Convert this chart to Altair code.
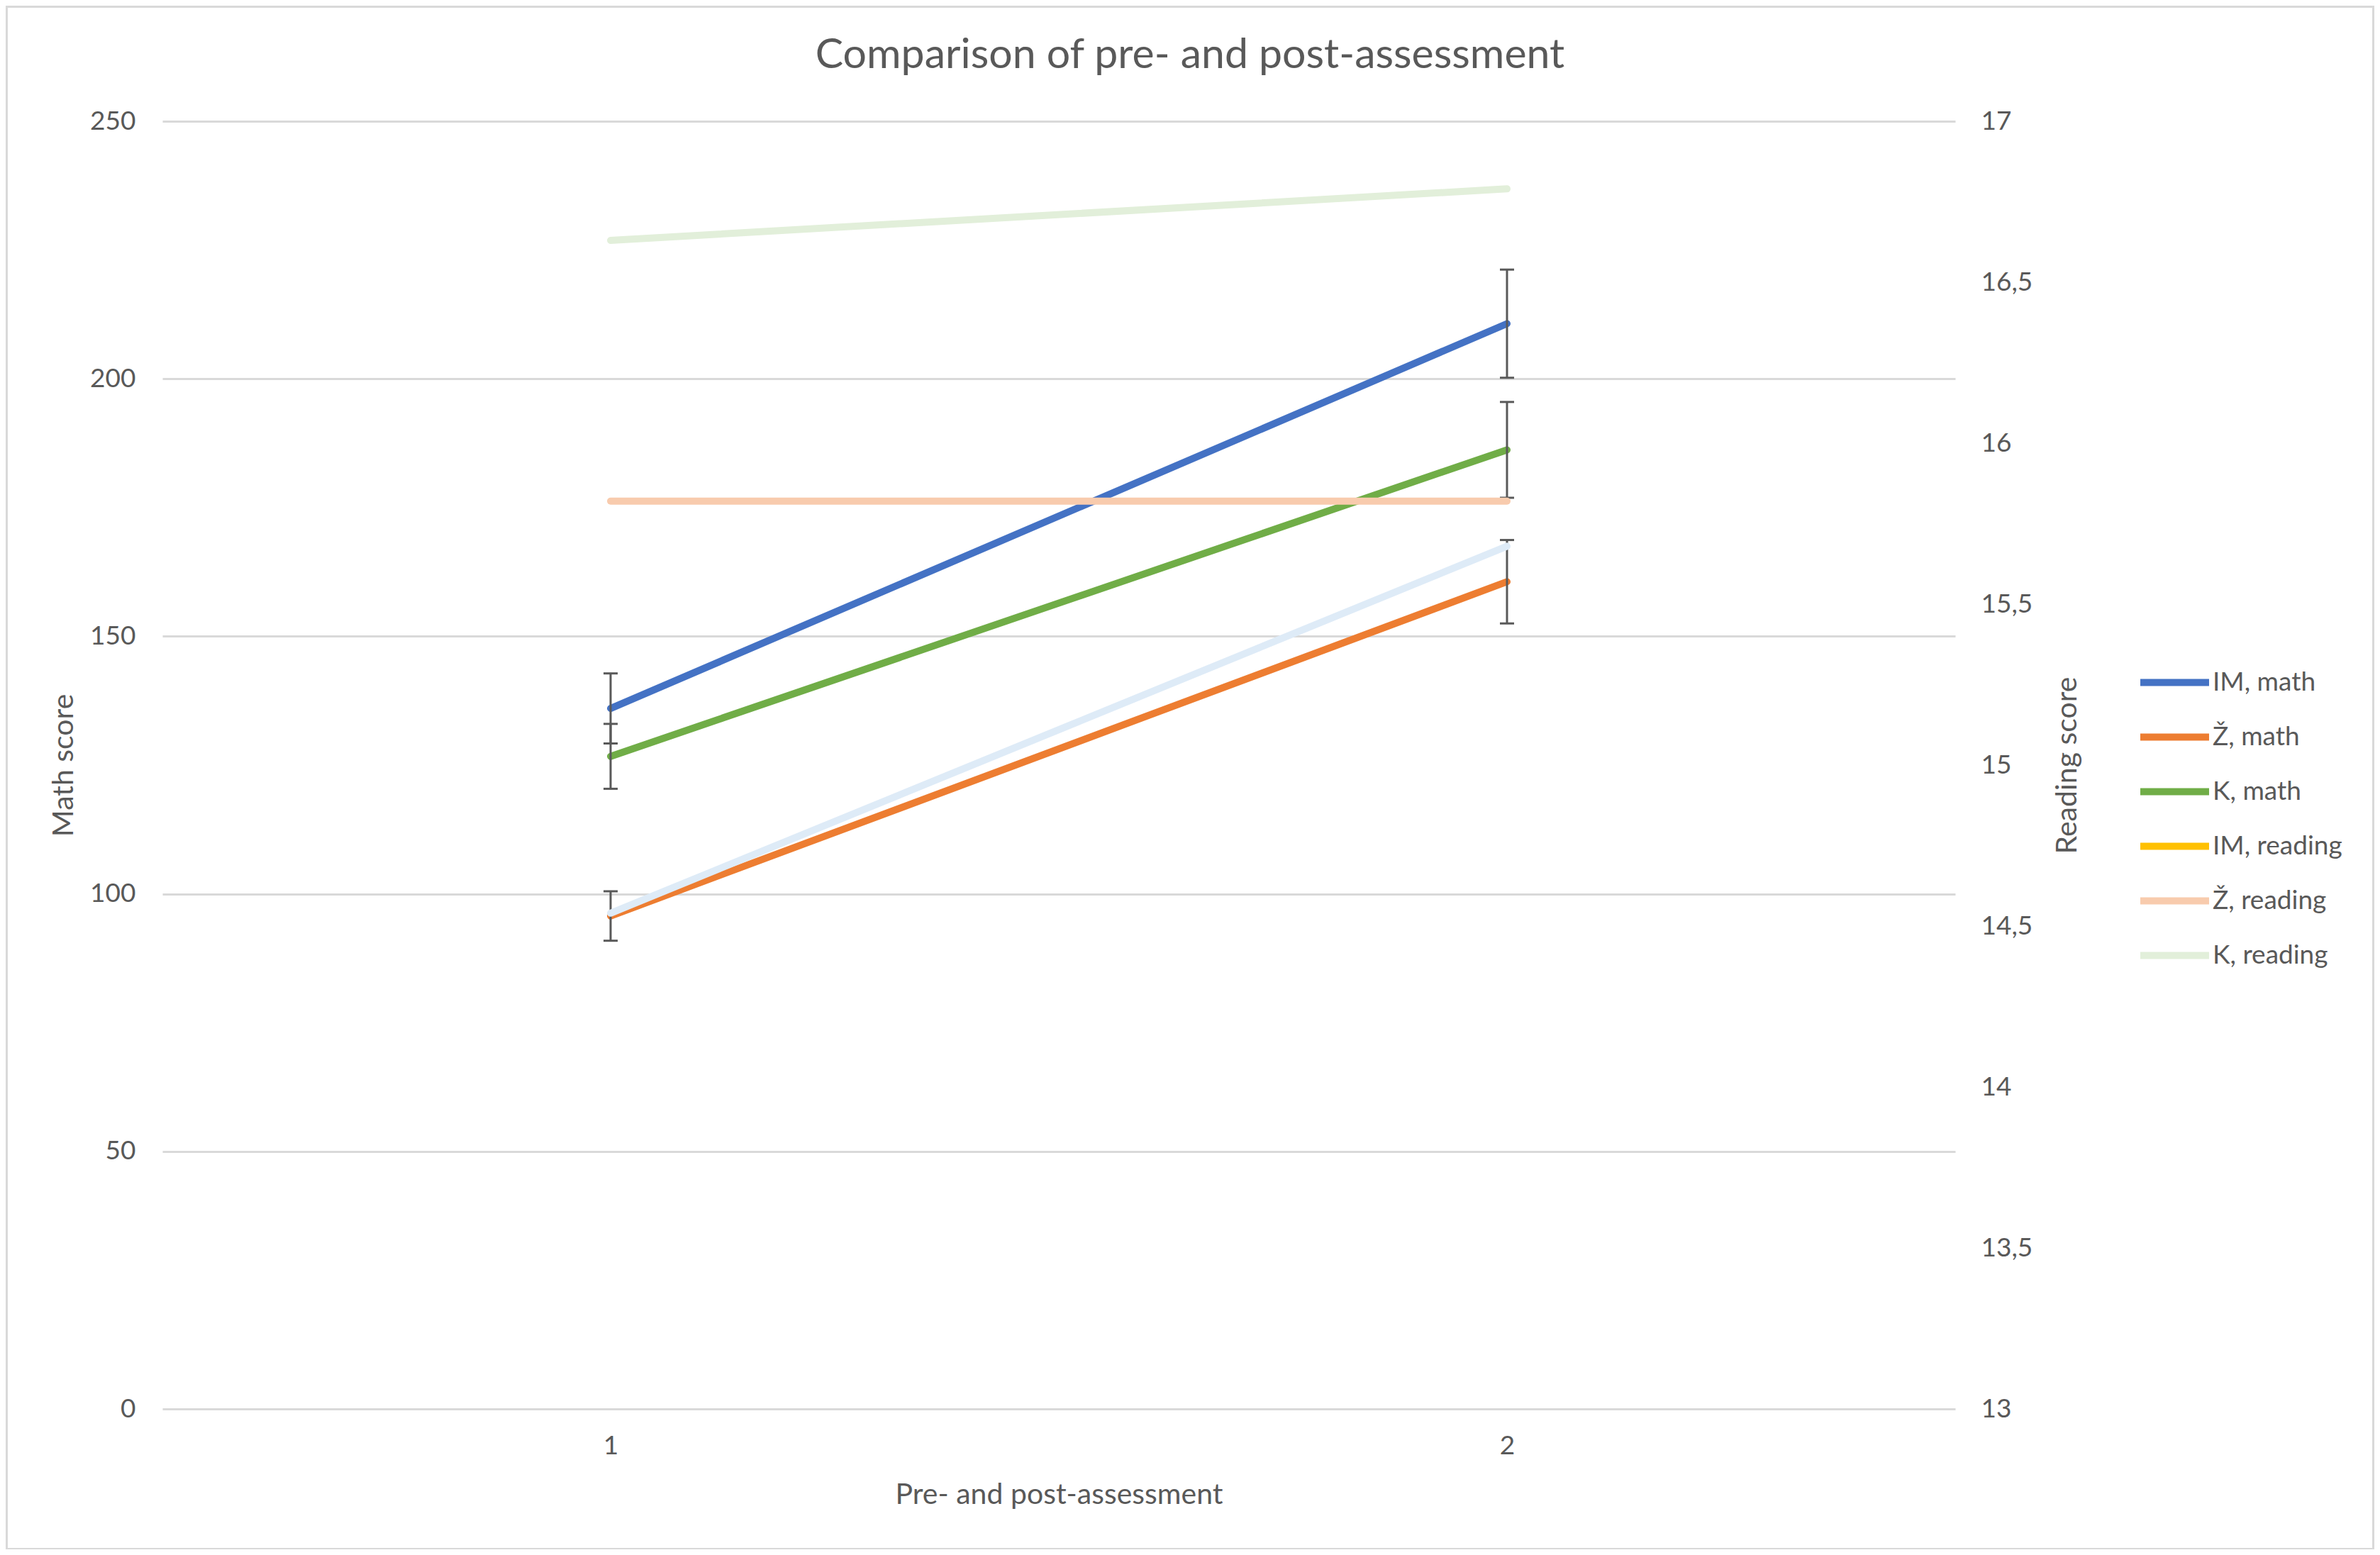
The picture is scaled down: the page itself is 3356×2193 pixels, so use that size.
import altair as alt
import pandas as pd

# ---------------- data ----------------
timepoints = ["1", "2"]

math_series = ["IM, math", "Ž, math", "K, math"]
im_math = [136.0, 210.7]
z_math = [95.7, 160.6]
k_math = [126.7, 186.2]
im_math_err = [6.8, 10.5]
z_math_err = [4.8, 8.1]
k_math_err = [6.3, 9.3]

reading_series = ["Ž, reading", "K, reading"]
z_reading = [15.82, 15.82]
k_reading = [16.63, 16.79]
extra_reading = [14.54, 15.68]  # pale blue line without legend entry

legend_names = ["IM, math", "Ž, math", "K, math", "IM, reading", "Ž, reading", "K, reading"]
legend_colors = ["#4472C4", "#ED7D31", "#70AD47", "#FFC000", "#F8CBAD", "#E2EFDA"]
extra_color = "#DEEBF7"

math_ticks = [0, 50, 100, 150, 200, 250]
reading_ticks = [13, 13.5, 14, 14.5, 15, 15.5, 16, 16.5, 17]

# ---------------- tables ----------------
math_rows = []
for name, vals, errs in zip(math_series, [im_math, z_math, k_math],
                            [im_math_err, z_math_err, k_math_err]):
    for t, v, e in zip(timepoints, vals, errs):
        math_rows.append({"series": name, "t": t, "value": v, "lo": v - e, "hi": v + e})
math_df = pd.DataFrame(math_rows)

reading_rows = []
for name, vals in zip(reading_series, [z_reading, k_reading]):
    for t, v in zip(timepoints, vals):
        reading_rows.append({"series": name, "t": t, "value": v})
reading_df = pd.DataFrame(reading_rows)

extra_df = pd.DataFrame({"t": timepoints, "value": extra_reading})

FONT = "Lato"
TXT = "#595959"
GRID = "#D9D9D9"
LW = 10

W, H = 2528, 1816

x_enc = alt.X(
    "t:O",
    scale=alt.Scale(type="point", padding=0.5),
    axis=alt.Axis(
        title="Pre- and post-assessment",
        labelAngle=0,
        labelFont=FONT, labelFontSize=37, labelColor=TXT, labelPadding=34,
        titleFont=FONT, titleFontSize=41, titleColor=TXT, titleFontWeight="normal",
        titleY=121, titleBaseline="middle",
        domain=False, ticks=False, grid=False,
    ),
)

left_axis = alt.Axis(
    title="Math score", values=math_ticks,
    grid=True, gridColor=GRID, gridWidth=3,
    domain=False, ticks=False,
    labelFont=FONT, labelFontSize=37, labelColor=TXT, labelPadding=38,
    titleFont=FONT, titleFontSize=41, titleColor=TXT, titleFontWeight="normal",
    titleAngle=270, titleX=-139, titleY=H / 2, titleAlign="center", titleBaseline="middle",
)
right_axis = alt.Axis(
    title="Reading score", orient="right", values=reading_ticks,
    labelExpr="replace(format(datum.value, '.1~f'), '.', ',')",
    grid=False, domain=False, ticks=False,
    labelFont=FONT, labelFontSize=37, labelColor=TXT, labelPadding=36,
    titleFont=FONT, titleFontSize=41, titleColor=TXT, titleFontWeight="normal",
    titleAngle=270, titleX=158, titleY=H / 2, titleAlign="center", titleBaseline="middle",
)

math_scale = alt.Scale(domain=[0, 250], nice=False, zero=False)
reading_scale = alt.Scale(domain=[13, 17], nice=False, zero=False)

color_enc = alt.Color(
    "series:N",
    scale=alt.Scale(domain=legend_names, range=legend_colors),
    legend=alt.Legend(
        title=None, orient="none", legendX=2816, legendY=770,
        symbolType="M-3,0L3,0", symbolSize=1045, symbolStrokeWidth=LW,
        labelFont=FONT, labelFontSize=37, labelColor=TXT, labelOffset=32,
        labelLimit=500, rowPadding=35, padding=0,
    ),
)

frame = alt.Chart(pd.DataFrame({"f": [0]})).mark_rect(
    fillOpacity=0, stroke=GRID, strokeWidth=3
).encode(
    x=alt.value(-219.5), x2=alt.value(3117.5), y=alt.value(-161.5), y2=alt.value(2013.5)
)

math_lines = alt.Chart(math_df).mark_line(strokeWidth=LW, strokeCap="round").encode(
    x=x_enc,
    y=alt.Y("value:Q", scale=math_scale, axis=left_axis),
    color=color_enc,
)
err_rule = alt.Chart(math_df).mark_rule(color=TXT, strokeWidth=3).encode(
    x=x_enc,
    y=alt.Y("lo:Q", scale=math_scale, axis=left_axis),
    y2="hi:Q",
)
err_lo = alt.Chart(math_df).mark_tick(color=TXT, thickness=3, size=20, opacity=1).encode(
    x=x_enc, y=alt.Y("lo:Q", scale=math_scale, axis=left_axis)
)
err_hi = alt.Chart(math_df).mark_tick(color=TXT, thickness=3, size=20, opacity=1).encode(
    x=x_enc, y=alt.Y("hi:Q", scale=math_scale, axis=left_axis)
)

math_layer = alt.layer(frame, math_lines, err_rule, err_lo, err_hi)

reading_lines = alt.Chart(reading_df).mark_line(strokeWidth=LW, strokeCap="round").encode(
    x=x_enc,
    y=alt.Y("value:Q", scale=reading_scale, axis=right_axis),
    color=color_enc,
)
extra_line = alt.Chart(extra_df).mark_line(strokeWidth=LW, strokeCap="round", color=extra_color).encode(
    x=x_enc,
    y=alt.Y("value:Q", scale=reading_scale, axis=right_axis),
)
reading_layer = alt.layer(reading_lines, extra_line)

chart = alt.layer(math_layer, reading_layer).resolve_scale(y="independent").properties(
    width=W, height=H,
    autosize=alt.AutoSizeParams(type="none"),
    padding={"left": 221, "top": 163, "right": 591, "bottom": 198},
    title=alt.TitleParams(
        "Comparison of pre- and post-assessment",
        font=FONT, fontSize=59, color=TXT, fontWeight="normal",
        anchor="middle", frame="group", baseline="middle", offset=0, dx=185, dy=129,
    ),
    background="white",
).configure_view(stroke="transparent")

chart.save("out.html", embed_options={"renderer": "svg", "actions": False})
